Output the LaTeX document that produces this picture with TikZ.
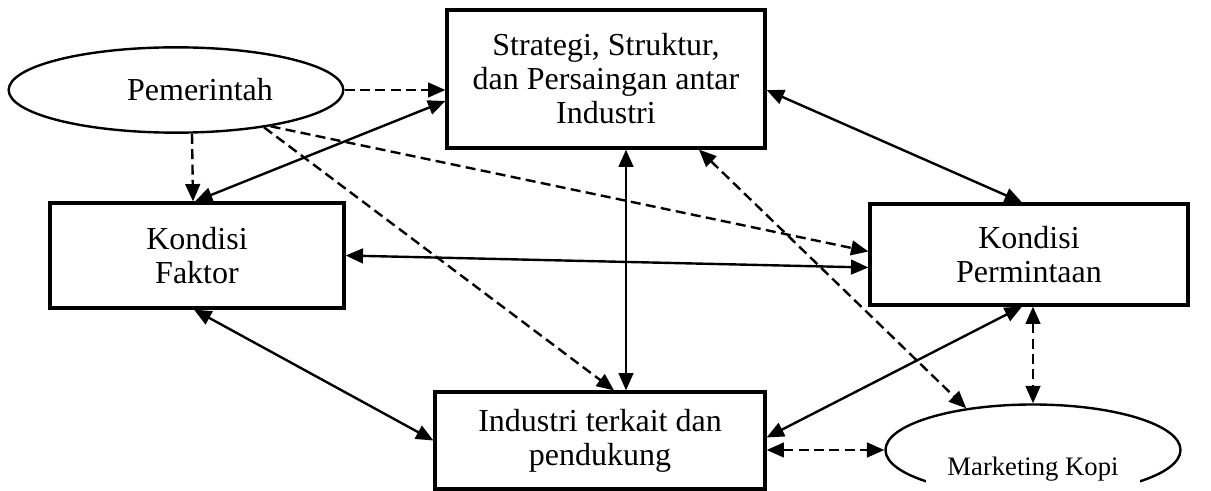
\documentclass[tikz,border=0pt]{standalone}
\usepackage{fontspec}
\setmainfont{Liberation Serif}
\usetikzlibrary{shapes.geometric,arrows.meta,calc}
\begin{document}
\begin{tikzpicture}[x=0.75pt,y=-0.75pt,>={Triangle[length=13pt,width=11pt]},
				kotak/.style={draw,line width=2.4pt,align=center,font=\fontsize{24}{25.5}\selectfont},
				oval/.style={ellipse,draw,line width=1.8pt,font=\fontsize{24}{25.5}\selectfont},
				garis/.style={line width=1.8pt},
				putus/.style={line width=1.8pt,dash pattern=on 7.5pt off 4pt}]
\useasboundingbox (0,0) rectangle (1211,491);
\node[oval,minimum width=251pt,minimum height=64pt] (pem) at (176,90) {\hspace*{36pt}Pemerintah};
\node[kotak,minimum width=238.5pt,minimum height=103.5pt] (strat) at (606,79) {Strategi, Struktur,\\dan Persaingan antar\\Industri};
\node[kotak,minimum width=220.5pt,minimum height=78.75pt] (faktor) at (197,255.5) {Kondisi\\Faktor};
\node[kotak,minimum width=238.5pt,minimum height=75.75pt] (perm) at (1029,254.5) {Kondisi\\Permintaan};
\node[kotak,minimum width=247.5pt,minimum height=72.75pt] (ind) at (600,440.5) {Industri terkait dan\\pendukung};
\node[oval,minimum width=221.25pt,minimum height=68.25pt] (pel) at (1033,450) {};
\node[fill=white,minimum width=161pt,minimum height=40pt,font=\fontsize{20}{24}\selectfont] (mk) at (1033,469) {Marketing Kopi};
% pengaruh pemerintah
\draw[putus,->] (pem.east) -- (pem.east -| strat.west);
\draw[putus,->] ($(pem.south)+(16,0)$) -- ($(faktor.north)+(-4,0)$);
\draw[putus,->] (pem.-21) -- ($(perm.west)+(0,-3)$);
\draw[putus,->] (pem.-23) -- ($(ind.north)+(14,0)$);
% hubungan antar faktor
\draw[garis,<->] ($(faktor.north)+(-2,0)$) -- ($(strat.west)+(0,22)$);
\draw[garis,<->] (faktor.east) -- ($(perm.west)+(0,13)$);
\draw[garis,<->] ($(strat.south)+(20,0)$) -- ($(ind.north)+(26,0)$);
\draw[putus,<->] ($(strat.south)+(93,0)$) -- (pel.148);
\draw[garis,<->] ($(strat.east)+(0,11)$) -- ($(perm.north)+(-7,0)$);
\draw[garis,<->] ($(faktor.south)+(-3,0)$) -- (ind.west);
\draw[garis,<->] ($(ind.east)+(0,-3)$) -- ($(perm.south)+(-7,0)$);
\draw[putus,<->] (pel.north |- perm.south) -- (pel.north);
\draw[putus,<->] (pel.west -| ind.east) -- (pel.west);
\end{tikzpicture}
\end{document}
